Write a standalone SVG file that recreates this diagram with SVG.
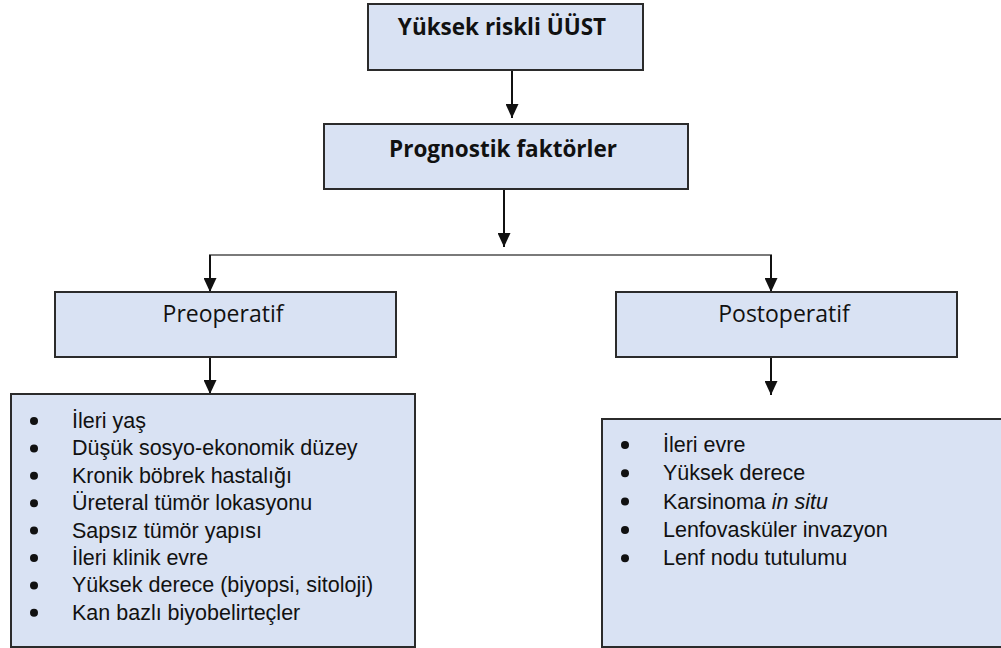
<svg xmlns="http://www.w3.org/2000/svg" width="1001" height="648" viewBox="0 0 1001 648">
<style>
.box{fill:#d9e2f3;stroke:#2b2b2b;stroke-width:2}
.hd{font-family:"Open Sans","Noto Sans",sans-serif;font-size:23px;fill:#111;text-anchor:middle}
.b{font-weight:bold;font-size:22.5px}
.li{font-family:"Liberation Sans",Arial,sans-serif;font-size:21.5px;fill:#111}
.ln{stroke:#111;stroke-width:2;fill:none}
.gl{stroke:#7a7a7a;stroke-width:2;fill:none}
</style>
<defs>
<marker id="ad" markerWidth="14" markerHeight="13" refX="14" refY="6.5" orient="auto" markerUnits="userSpaceOnUse" viewBox="0 0 14 13">
<path d="M0,0 L14,6.5 L0,13 Z" fill="#111"/>
</marker>
</defs>
<g id="connectors">
<line class="ln" x1="512" y1="70" x2="512" y2="118" marker-end="url(#ad)"/>
<line class="ln" x1="504" y1="189" x2="504" y2="247" marker-end="url(#ad)"/>
<polyline class="gl" points="210,292 210,255 771,255 771,292"/>
<line class="ln" x1="210" y1="255" x2="210" y2="292" marker-end="url(#ad)"/>
<line class="ln" x1="771" y1="255" x2="771" y2="292" marker-end="url(#ad)"/>
<line class="ln" x1="210" y1="357" x2="210" y2="394" marker-end="url(#ad)"/>
<line class="ln" x1="771" y1="357" x2="771" y2="395" marker-end="url(#ad)"/>
</g>
<g id="node-top">
<rect class="box" x="368" y="4" width="275" height="66"/>
<text class="hd b" x="502" y="35">Yüksek riskli ÜÜST</text>
</g>
<g id="node-prognostik">
<rect class="box" x="324" y="124" width="364" height="65"/>
<text class="hd b" x="503" y="157">Prognostik faktörler</text>
</g>
<g id="node-preoperatif">
<rect class="box" x="55" y="292" width="341" height="65"/>
<text class="hd" x="223" y="322">Preoperatif</text>
</g>
<g id="node-postoperatif">
<rect class="box" x="616" y="292" width="341" height="65"/>
<text class="hd" x="784" y="322">Postoperatif</text>
</g>
<g id="node-pre-list">
<rect class="box" x="11" y="394" width="404" height="253"/>
<g fill="#111">
<circle cx="34" cy="421" r="4"/><circle cx="34" cy="448.4" r="4"/><circle cx="34" cy="475.8" r="4"/><circle cx="34" cy="503.2" r="4"/>
<circle cx="34" cy="530.6" r="4"/><circle cx="34" cy="558" r="4"/><circle cx="34" cy="585.4" r="4"/><circle cx="34" cy="612.8" r="4"/>
</g>
<text class="li" x="72" y="428">İleri yaş</text>
<text class="li" x="72" y="455.4">Düşük sosyo-ekonomik düzey</text>
<text class="li" x="72" y="482.8">Kronik böbrek hastalığı</text>
<text class="li" x="72" y="510.2">Üreteral tümör lokasyonu</text>
<text class="li" x="72" y="537.6">Sapsız tümör yapısı</text>
<text class="li" x="72" y="565">İleri klinik evre</text>
<text class="li" x="72" y="592.4">Yüksek derece (biyopsi, sitoloji)</text>
<text class="li" x="72" y="619.8">Kan bazlı biyobelirteçler</text>
</g>
<g id="node-post-list">
<rect class="box" x="602" y="419" width="402" height="228"/>
<g fill="#111">
<circle cx="625" cy="445" r="4"/><circle cx="625" cy="473.3" r="4"/><circle cx="625" cy="501.6" r="4"/><circle cx="625" cy="529.9" r="4"/><circle cx="625" cy="558.2" r="4"/>
</g>
<text class="li" x="663" y="452">İleri evre</text>
<text class="li" x="663" y="480.3">Yüksek derece</text>
<text class="li" x="663" y="508.6">Karsinoma <tspan font-style="italic">in situ</tspan></text>
<text class="li" x="663" y="536.9">Lenfovasküler invazyon</text>
<text class="li" x="663" y="565.2">Lenf nodu tutulumu</text>
</g>
</svg>
